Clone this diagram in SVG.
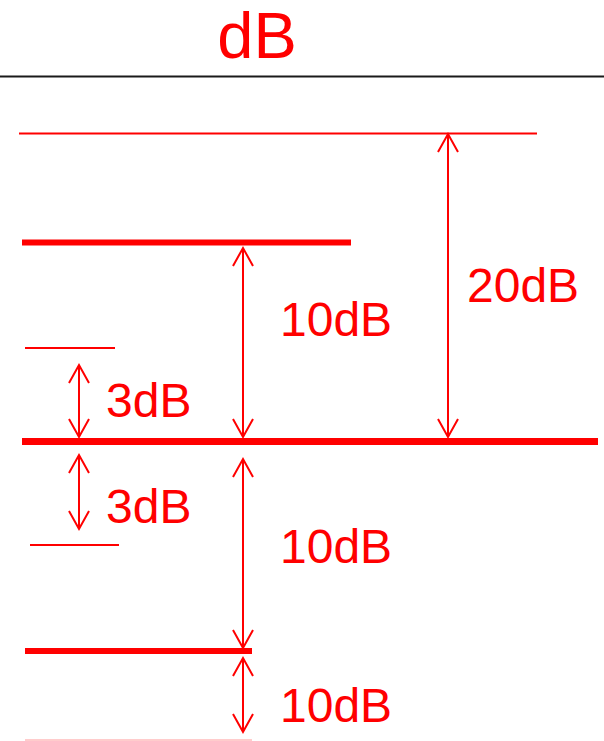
<svg xmlns="http://www.w3.org/2000/svg" width="604" height="741" viewBox="0 0 604 741">
  <style>
    .lbl { font-family: "Liberation Sans", Arial, sans-serif; fill: #ff0000; }
    .lvl { stroke: #ff0000; fill: none; }
    .dim { stroke: #ff0000; stroke-width: 2; fill: none; marker-start: url(#head); marker-end: url(#head); }
  </style>
  <defs>
    <marker id="head" markerUnits="userSpaceOnUse" viewBox="-20 -12 22 24" refX="0" refY="0" markerWidth="22" markerHeight="24" orient="auto-start-reverse" overflow="visible">
      <path d="M -18 -10 L 0 0 L -18 10" stroke="#ff0000" stroke-width="2" fill="none"/>
    </marker>
  </defs>
  <rect width="604" height="741" fill="#ffffff"/>

  <g id="title">
    <text class="lbl" x="257" y="58" font-size="65" text-anchor="middle">dB</text>
    <line x1="0" y1="76.5" x2="604" y2="76.5" stroke="#1a1a1a" stroke-width="2"/>
  </g>

  <g id="levels">
    <line id="level-plus20" class="lvl" x1="19" y1="133.5" x2="537" y2="133.5" stroke-width="2"/>
    <line id="level-plus10" class="lvl" x1="22" y1="242.5" x2="351" y2="242.5" stroke-width="6"/>
    <line id="level-plus3" class="lvl" x1="25" y1="348" x2="115" y2="348" stroke-width="2"/>
    <line id="level-ref" class="lvl" x1="22" y1="441.5" x2="598" y2="441.5" stroke-width="7"/>
    <line id="level-minus3" class="lvl" x1="30" y1="545" x2="119" y2="545" stroke-width="2"/>
    <line id="level-minus10" class="lvl" x1="25" y1="651" x2="252" y2="651" stroke-width="6"/>
    <line id="level-minus20" x1="25" y1="740" x2="252" y2="740" stroke="#ffcccc" stroke-width="2"/>
  </g>

  <g id="connectors">
    <line class="dim" x1="448" y1="134" x2="448" y2="437"/>
    <line class="dim" x1="243" y1="248" x2="243" y2="437"/>
    <line class="dim" x1="79" y1="365" x2="79" y2="437"/>
    <line class="dim" x1="79" y1="455" x2="79" y2="529"/>
    <line class="dim" x1="243" y1="459" x2="243" y2="648"/>
    <line class="dim" x1="243" y1="658" x2="243" y2="732"/>
  </g>

  <g id="labels">
    <text class="lbl" x="467" y="302" font-size="48">20dB</text>
    <text class="lbl" x="280" y="336" font-size="48">10dB</text>
    <text class="lbl" x="106" y="417" font-size="48">3dB</text>
    <text class="lbl" x="106" y="523" font-size="48">3dB</text>
    <text class="lbl" x="280" y="563" font-size="48">10dB</text>
    <text class="lbl" x="280" y="722" font-size="48">10dB</text>
  </g>
</svg>
